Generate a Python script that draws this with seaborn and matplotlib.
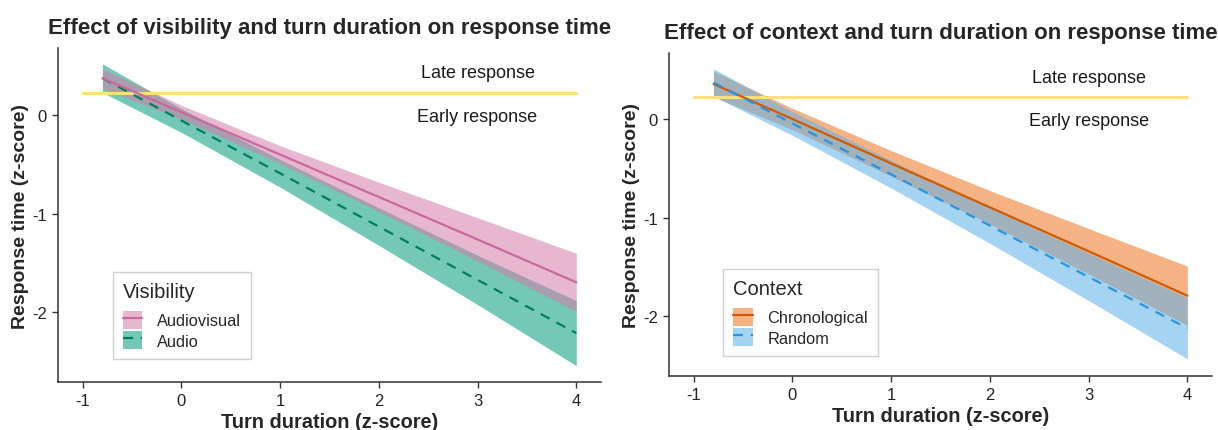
import numpy as np
import pandas as pd
import matplotlib
matplotlib.use("Agg")
import matplotlib.pyplot as plt
from matplotlib.patches import Patch
from matplotlib.lines import Line2D
import seaborn as sns

# Predicted response time (z-score) over turn duration (z-score), with 95% CI
turn_duration = [-0.8, 0.0, 1.0, 2.0, 3.0, 4.0]

audiovisual_fit = [0.375, 0.03, -0.40, -0.83, -1.26, -1.695]
audiovisual_lo = [0.27, -0.04, -0.49, -0.98, -1.48, -1.99]
audiovisual_hi = [0.47, 0.10, -0.31, -0.68, -1.04, -1.40]

audio_fit = [0.375, -0.055, -0.59, -1.13, -1.67, -2.21]
audio_lo = [0.23, -0.175, -0.73, -1.32, -1.92, -2.54]
audio_hi = [0.52, 0.065, -0.45, -0.94, -1.42, -1.88]

chrono_fit = [0.355, 0.0, -0.45, -0.895, -1.34, -1.79]
chrono_lo = [0.225, -0.108, -0.58, -1.065, -1.57, -2.09]
chrono_hi = [0.485, 0.108, -0.32, -0.725, -1.11, -1.49]

random_fit = [0.37, -0.045, -0.56, -1.08, -1.60, -2.12]
random_lo = [0.23, -0.165, -0.70, -1.26, -1.84, -2.43]
random_hi = [0.51, 0.075, -0.42, -0.90, -1.36, -1.81]

threshold_x = [-1, 4]
threshold_y = 0.225
x_ticks = [-1, 0, 1, 2, 3, 4]
y_ticks = [0, -1, -2]

sns.set_theme(style="ticks")
plt.rcParams["font.family"] = ["Liberation Sans", "DejaVu Sans"]

fig = plt.figure(figsize=(12.18, 4.31), dpi=100)
ax1 = fig.add_axes([0.0476, 0.1114, 0.4458, 0.7746])
ax2 = fig.add_axes([0.5493, 0.1253, 0.4458, 0.7494])

ALPHA = 0.55
DASHED = (0, (4.5, 3.5))


def draw_panel(ax, groups, legend_order, title, legend_title, ylim,
               legend_anchor, late_y, early_y):
    # threshold line separating early and late responses
    sns.lineplot(x=threshold_x, y=[threshold_y, threshold_y], ax=ax,
                 color="#FDE07A", linewidth=2.2, legend=False)
    # ribbons, in drawing order (later ones sit on top)
    for g in groups:
        ax.fill_between(turn_duration, g["lo"], g["hi"], color=g["fill"],
                        alpha=ALPHA, linewidth=0)
    for g in groups:
        df = pd.DataFrame({"x": turn_duration, "y": g["fit"]})
        sns.lineplot(data=df, x="x", y="y", ax=ax, color=g["line"],
                     linewidth=1.6, linestyle=g["ls"], legend=False)
    ax.text(3, late_y, "Late response", ha="center", va="center",
            fontsize=13, color="#1a1a1a")
    ax.text(3, early_y, "Early response", ha="center", va="center",
            fontsize=13, color="#1a1a1a")

    ax.set_xlim(-1.25, 4.25)
    ax.set_ylim(*ylim)
    ax.set_xticks(x_ticks)
    ax.set_xticklabels([str(t) for t in x_ticks])
    ax.set_yticks(y_ticks)
    ax.set_yticklabels([str(t) for t in y_ticks])
    ax.tick_params(labelsize=12, colors="#333333", labelcolor="#222222",
                   length=4, width=1, pad=4)
    for s in ("top", "right"):
        ax.spines[s].set_visible(False)
    for s in ("left", "bottom"):
        ax.spines[s].set_color("#333333")
        ax.spines[s].set_linewidth(1.1)
    ax.set_xlabel("Turn duration (z-score)", fontsize=14.4,
                  fontweight="bold", labelpad=3)
    ax.set_ylabel("Response time (z-score)", fontsize=14,
                  fontweight="bold", labelpad=2)
    ax.set_title(title, fontsize=16, fontweight="bold", pad=11)

    handles = []
    labels = []
    for g in legend_order:
        patch = Patch(facecolor=g["fill"], alpha=ALPHA, edgecolor="none")
        line = Line2D([], [], color=g["line"], linewidth=1.6,
                      linestyle=g["ls"])
        handles.append((patch, line))
        labels.append(g["name"])
    leg = ax.legend(handles, labels, title=legend_title, loc="lower left",
                    bbox_to_anchor=legend_anchor, borderaxespad=0,
                    fontsize=11.8, title_fontsize=14.5, frameon=True,
                    fancybox=False, edgecolor="#d0d0d0", framealpha=1,
                    handlelength=1.2, handleheight=1.3, handletextpad=0.9,
                    labelspacing=0.15, borderpad=0.6, alignment="left")
    leg._legend_box.sep = 7
    leg.get_frame().set_linewidth(1.0)


audiovisual = dict(name="Audiovisual", fit=audiovisual_fit,
                   lo=audiovisual_lo, hi=audiovisual_hi,
                   fill="#D47CAB", line="#C96A9E", ls="-")
audio = dict(name="Audio", fit=audio_fit, lo=audio_lo, hi=audio_hi,
             fill="#009E78", line="#007F5F", ls=DASHED)
chronological = dict(name="Chronological", fit=chrono_fit, lo=chrono_lo,
                     hi=chrono_hi, fill="#EE7422", line="#D25A00", ls="-")
random_ctx = dict(name="Random", fit=random_fit, lo=random_lo,
                  hi=random_hi, fill="#5CB2EA", line="#2A94DD", ls=DASHED)

draw_panel(ax1, [audio, audiovisual], [audiovisual, audio],
           "Effect of visibility and turn duration on response time",
           "Visibility", (-2.705, 0.679), (0.101, 0.069), 0.43, -0.01)
draw_panel(ax2, [chronological, random_ctx], [chronological, random_ctx],
           "Effect of context and turn duration on response time",
           "Context", (-2.604, 0.669), (0.0995, 0.062), 0.42, -0.02)

fig.savefig("out.png", dpi=100)
